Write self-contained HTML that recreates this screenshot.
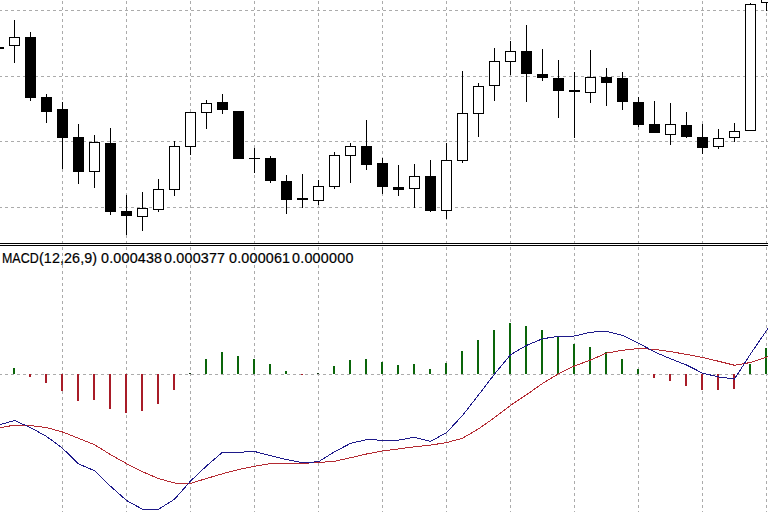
<!DOCTYPE html>
<html><head><meta charset="utf-8"><style>
html,body{margin:0;padding:0;background:#fff;}
body{width:768px;height:512px;overflow:hidden;position:relative;}
svg{position:absolute;left:0;top:0;}
.lbl{position:absolute;top:251px;font-family:"Liberation Sans",sans-serif;font-size:14.3px;color:#000;white-space:nowrap;line-height:1;-webkit-text-stroke:0.2px #000;}
</style></head><body>
<svg width="768" height="512" viewBox="0 0 768 512" shape-rendering="crispEdges">
<defs><pattern id="vd" x="0" y="1" width="1" height="6" patternUnits="userSpaceOnUse"><rect x="0" y="0" width="1" height="3" fill="#ababab"/></pattern><pattern id="hd" x="5" y="0" width="6" height="1" patternUnits="userSpaceOnUse"><rect x="0" y="0" width="3" height="1" fill="#ababab"/></pattern></defs>
<rect x="62" y="0" width="1" height="243" fill="url(#vd)"/>
<rect x="62" y="246" width="1" height="266" fill="url(#vd)"/>
<rect x="126" y="0" width="1" height="243" fill="url(#vd)"/>
<rect x="126" y="246" width="1" height="266" fill="url(#vd)"/>
<rect x="190" y="0" width="1" height="243" fill="url(#vd)"/>
<rect x="190" y="246" width="1" height="266" fill="url(#vd)"/>
<rect x="254" y="0" width="1" height="243" fill="url(#vd)"/>
<rect x="254" y="246" width="1" height="266" fill="url(#vd)"/>
<rect x="318" y="0" width="1" height="243" fill="url(#vd)"/>
<rect x="318" y="246" width="1" height="266" fill="url(#vd)"/>
<rect x="382" y="0" width="1" height="243" fill="url(#vd)"/>
<rect x="382" y="246" width="1" height="266" fill="url(#vd)"/>
<rect x="446" y="0" width="1" height="243" fill="url(#vd)"/>
<rect x="446" y="246" width="1" height="266" fill="url(#vd)"/>
<rect x="510" y="0" width="1" height="243" fill="url(#vd)"/>
<rect x="510" y="246" width="1" height="266" fill="url(#vd)"/>
<rect x="574" y="0" width="1" height="243" fill="url(#vd)"/>
<rect x="574" y="246" width="1" height="266" fill="url(#vd)"/>
<rect x="638" y="0" width="1" height="243" fill="url(#vd)"/>
<rect x="638" y="246" width="1" height="266" fill="url(#vd)"/>
<rect x="702" y="0" width="1" height="243" fill="url(#vd)"/>
<rect x="702" y="246" width="1" height="266" fill="url(#vd)"/>
<rect x="766" y="0" width="1" height="243" fill="url(#vd)"/>
<rect x="766" y="246" width="1" height="266" fill="url(#vd)"/>
<rect x="0" y="10" width="768" height="1" fill="url(#hd)"/>
<rect x="0" y="76" width="768" height="1" fill="url(#hd)"/>
<rect x="0" y="141" width="768" height="1" fill="url(#hd)"/>
<rect x="0" y="207" width="768" height="1" fill="url(#hd)"/>
<rect x="0" y="374" width="768" height="1" fill="url(#hd)"/>
<rect x="-2" y="47" width="1" height="2" fill="#000"/>
<rect x="-7" y="47" width="11" height="2" fill="#000"/>
<rect x="14" y="20" width="1" height="43" fill="#000"/>
<rect x="9" y="37" width="11" height="9" fill="#000"/>
<rect x="10" y="38" width="9" height="7" fill="#fff"/>
<rect x="30" y="32" width="1" height="69" fill="#000"/>
<rect x="25" y="37" width="11" height="61" fill="#000"/>
<rect x="46" y="94" width="1" height="29" fill="#000"/>
<rect x="41" y="97" width="11" height="15" fill="#000"/>
<rect x="62" y="102" width="1" height="67" fill="#000"/>
<rect x="57" y="109" width="11" height="29" fill="#000"/>
<rect x="78" y="124" width="1" height="60" fill="#000"/>
<rect x="73" y="137" width="11" height="35" fill="#000"/>
<rect x="94" y="135" width="1" height="53" fill="#000"/>
<rect x="89" y="142" width="11" height="30" fill="#000"/>
<rect x="90" y="143" width="9" height="28" fill="#fff"/>
<rect x="110" y="128" width="1" height="87" fill="#000"/>
<rect x="105" y="143" width="11" height="69" fill="#000"/>
<rect x="126" y="195" width="1" height="40" fill="#000"/>
<rect x="121" y="211" width="11" height="5" fill="#000"/>
<rect x="142" y="192" width="1" height="39" fill="#000"/>
<rect x="137" y="208" width="11" height="9" fill="#000"/>
<rect x="138" y="209" width="9" height="7" fill="#fff"/>
<rect x="158" y="179" width="1" height="33" fill="#000"/>
<rect x="153" y="189" width="11" height="21" fill="#000"/>
<rect x="154" y="190" width="9" height="19" fill="#fff"/>
<rect x="174" y="141" width="1" height="55" fill="#000"/>
<rect x="169" y="146" width="11" height="44" fill="#000"/>
<rect x="170" y="147" width="9" height="42" fill="#fff"/>
<rect x="190" y="112" width="1" height="43" fill="#000"/>
<rect x="185" y="112" width="11" height="35" fill="#000"/>
<rect x="186" y="113" width="9" height="33" fill="#fff"/>
<rect x="206" y="100" width="1" height="29" fill="#000"/>
<rect x="201" y="103" width="11" height="10" fill="#000"/>
<rect x="202" y="104" width="9" height="8" fill="#fff"/>
<rect x="222" y="94" width="1" height="20" fill="#000"/>
<rect x="217" y="102" width="11" height="8" fill="#000"/>
<rect x="238" y="111" width="1" height="48" fill="#000"/>
<rect x="233" y="111" width="11" height="48" fill="#000"/>
<rect x="254" y="148" width="1" height="25" fill="#000"/>
<rect x="249" y="158" width="11" height="1" fill="#000"/>
<rect x="270" y="156" width="1" height="27" fill="#000"/>
<rect x="265" y="158" width="11" height="23" fill="#000"/>
<rect x="286" y="175" width="1" height="39" fill="#000"/>
<rect x="281" y="181" width="11" height="19" fill="#000"/>
<rect x="302" y="174" width="1" height="34" fill="#000"/>
<rect x="297" y="198" width="11" height="2" fill="#000"/>
<rect x="318" y="180" width="1" height="25" fill="#000"/>
<rect x="313" y="186" width="11" height="15" fill="#000"/>
<rect x="314" y="187" width="9" height="13" fill="#fff"/>
<rect x="334" y="152" width="1" height="37" fill="#000"/>
<rect x="329" y="155" width="11" height="32" fill="#000"/>
<rect x="330" y="156" width="9" height="30" fill="#fff"/>
<rect x="350" y="143" width="1" height="40" fill="#000"/>
<rect x="345" y="146" width="11" height="10" fill="#000"/>
<rect x="346" y="147" width="9" height="8" fill="#fff"/>
<rect x="366" y="120" width="1" height="50" fill="#000"/>
<rect x="361" y="146" width="11" height="19" fill="#000"/>
<rect x="382" y="158" width="1" height="36" fill="#000"/>
<rect x="377" y="163" width="11" height="24" fill="#000"/>
<rect x="398" y="165" width="1" height="31" fill="#000"/>
<rect x="393" y="187" width="11" height="3" fill="#000"/>
<rect x="414" y="164" width="1" height="44" fill="#000"/>
<rect x="409" y="176" width="11" height="13" fill="#000"/>
<rect x="410" y="177" width="9" height="11" fill="#fff"/>
<rect x="430" y="160" width="1" height="52" fill="#000"/>
<rect x="425" y="176" width="11" height="35" fill="#000"/>
<rect x="446" y="143" width="1" height="76" fill="#000"/>
<rect x="441" y="160" width="11" height="51" fill="#000"/>
<rect x="442" y="161" width="9" height="49" fill="#fff"/>
<rect x="462" y="71" width="1" height="92" fill="#000"/>
<rect x="457" y="113" width="11" height="48" fill="#000"/>
<rect x="458" y="114" width="9" height="46" fill="#fff"/>
<rect x="478" y="83" width="1" height="54" fill="#000"/>
<rect x="473" y="86" width="11" height="28" fill="#000"/>
<rect x="474" y="87" width="9" height="26" fill="#fff"/>
<rect x="494" y="48" width="1" height="53" fill="#000"/>
<rect x="489" y="61" width="11" height="25" fill="#000"/>
<rect x="490" y="62" width="9" height="23" fill="#fff"/>
<rect x="510" y="41" width="1" height="34" fill="#000"/>
<rect x="505" y="51" width="11" height="11" fill="#000"/>
<rect x="506" y="52" width="9" height="9" fill="#fff"/>
<rect x="526" y="25" width="1" height="77" fill="#000"/>
<rect x="521" y="51" width="11" height="23" fill="#000"/>
<rect x="542" y="49" width="1" height="32" fill="#000"/>
<rect x="537" y="74" width="11" height="4" fill="#000"/>
<rect x="558" y="60" width="1" height="58" fill="#000"/>
<rect x="553" y="78" width="11" height="13" fill="#000"/>
<rect x="574" y="72" width="1" height="66" fill="#000"/>
<rect x="569" y="90" width="11" height="2" fill="#000"/>
<rect x="590" y="50" width="1" height="53" fill="#000"/>
<rect x="585" y="77" width="11" height="16" fill="#000"/>
<rect x="586" y="78" width="9" height="14" fill="#fff"/>
<rect x="606" y="68" width="1" height="38" fill="#000"/>
<rect x="601" y="77" width="11" height="6" fill="#000"/>
<rect x="622" y="72" width="1" height="38" fill="#000"/>
<rect x="617" y="78" width="11" height="24" fill="#000"/>
<rect x="638" y="97" width="1" height="30" fill="#000"/>
<rect x="633" y="102" width="11" height="23" fill="#000"/>
<rect x="654" y="101" width="1" height="32" fill="#000"/>
<rect x="649" y="124" width="11" height="9" fill="#000"/>
<rect x="670" y="103" width="1" height="42" fill="#000"/>
<rect x="665" y="124" width="11" height="11" fill="#000"/>
<rect x="666" y="125" width="9" height="9" fill="#fff"/>
<rect x="686" y="112" width="1" height="26" fill="#000"/>
<rect x="681" y="125" width="11" height="12" fill="#000"/>
<rect x="702" y="124" width="1" height="30" fill="#000"/>
<rect x="697" y="137" width="11" height="11" fill="#000"/>
<rect x="718" y="129" width="1" height="20" fill="#000"/>
<rect x="713" y="138" width="11" height="9" fill="#000"/>
<rect x="714" y="139" width="9" height="7" fill="#fff"/>
<rect x="734" y="123" width="1" height="19" fill="#000"/>
<rect x="729" y="131" width="11" height="7" fill="#000"/>
<rect x="730" y="132" width="9" height="5" fill="#fff"/>
<rect x="750" y="3" width="1" height="128" fill="#000"/>
<rect x="745" y="4" width="11" height="127" fill="#000"/>
<rect x="746" y="5" width="9" height="125" fill="#fff"/>
<rect x="766" y="-20" width="1" height="31" fill="#000"/>
<rect x="761" y="-20" width="11" height="23" fill="#000"/>
<rect x="762" y="-19" width="9" height="21" fill="#fff"/>
<rect x="0" y="243" width="768" height="1" fill="#000"/>
<rect x="0" y="244" width="768" height="1" fill="#fff"/>
<rect x="0" y="245" width="768" height="1" fill="#000"/>
<rect x="13" y="368" width="2" height="6" fill="#0a650a"/>
<rect x="29" y="374" width="2" height="3" fill="#a81c28"/>
<rect x="45" y="374" width="2" height="9" fill="#a81c28"/>
<rect x="61" y="374" width="2" height="17" fill="#a81c28"/>
<rect x="77" y="374" width="2" height="27" fill="#a81c28"/>
<rect x="93" y="374" width="2" height="26" fill="#a81c28"/>
<rect x="109" y="374" width="2" height="35" fill="#a81c28"/>
<rect x="125" y="374" width="2" height="39" fill="#a81c28"/>
<rect x="141" y="374" width="2" height="37" fill="#a81c28"/>
<rect x="157" y="374" width="2" height="30" fill="#a81c28"/>
<rect x="173" y="374" width="2" height="16" fill="#a81c28"/>
<rect x="189" y="373" width="2" height="1" fill="#183818"/>
<rect x="205" y="359" width="2" height="15" fill="#0a650a"/>
<rect x="221" y="352" width="2" height="22" fill="#0a650a"/>
<rect x="237" y="356" width="2" height="18" fill="#0a650a"/>
<rect x="253" y="359" width="2" height="15" fill="#0a650a"/>
<rect x="269" y="364" width="2" height="10" fill="#0a650a"/>
<rect x="285" y="371" width="2" height="3" fill="#0a650a"/>
<rect x="301" y="374" width="2" height="1" fill="#a81c28"/>
<rect x="317" y="373" width="2" height="1" fill="#183818"/>
<rect x="333" y="366" width="2" height="8" fill="#0a650a"/>
<rect x="349" y="360" width="2" height="14" fill="#0a650a"/>
<rect x="365" y="359" width="2" height="15" fill="#0a650a"/>
<rect x="381" y="362" width="2" height="12" fill="#0a650a"/>
<rect x="397" y="365" width="2" height="9" fill="#0a650a"/>
<rect x="413" y="364" width="2" height="10" fill="#0a650a"/>
<rect x="429" y="369" width="2" height="5" fill="#0a650a"/>
<rect x="445" y="363" width="2" height="11" fill="#0a650a"/>
<rect x="461" y="351" width="2" height="23" fill="#0a650a"/>
<rect x="477" y="340" width="2" height="34" fill="#0a650a"/>
<rect x="493" y="330" width="2" height="44" fill="#0a650a"/>
<rect x="509" y="323" width="2" height="51" fill="#0a650a"/>
<rect x="525" y="326" width="2" height="48" fill="#0a650a"/>
<rect x="541" y="330" width="2" height="44" fill="#0a650a"/>
<rect x="557" y="337" width="2" height="37" fill="#0a650a"/>
<rect x="573" y="344" width="2" height="30" fill="#0a650a"/>
<rect x="589" y="347" width="2" height="27" fill="#0a650a"/>
<rect x="605" y="352" width="2" height="22" fill="#0a650a"/>
<rect x="621" y="359" width="2" height="15" fill="#0a650a"/>
<rect x="637" y="369" width="2" height="5" fill="#0a650a"/>
<rect x="653" y="374" width="2" height="4" fill="#a81c28"/>
<rect x="669" y="374" width="2" height="7" fill="#a81c28"/>
<rect x="685" y="374" width="2" height="12" fill="#a81c28"/>
<rect x="701" y="374" width="2" height="16" fill="#a81c28"/>
<rect x="717" y="374" width="2" height="16" fill="#a81c28"/>
<rect x="733" y="374" width="2" height="15" fill="#a81c28"/>
<rect x="749" y="364" width="2" height="10" fill="#0a650a"/>
<rect x="765" y="348" width="2" height="26" fill="#0a650a"/>
<polyline points="-1.50,428.00 14.50,425.10 30.50,425.50 46.50,427.60 62.50,432.00 78.50,438.25 94.50,444.75 110.50,454.60 126.50,463.60 142.50,471.75 158.50,478.60 174.50,483.00 190.50,483.40 206.50,478.50 222.50,473.75 238.50,469.60 254.50,466.25 270.50,463.50 286.50,463.20 302.50,463.40 318.50,462.50 334.50,461.25 350.50,457.75 366.50,454.00 382.50,450.90 398.50,448.90 414.50,446.75 430.50,445.10 446.50,442.60 462.50,438.25 478.50,428.90 494.50,417.60 510.50,405.40 526.50,394.75 542.50,383.50 558.50,373.75 574.50,366.00 590.50,360.00 606.50,353.10 622.50,350.25 638.50,348.50 654.50,349.40 670.50,351.60 686.50,354.40 702.50,357.50 718.50,361.25 734.50,365.25 750.50,362.50 766.50,357.25 782.50,352.00" fill="none" stroke="#b42a32" stroke-width="1"/>
<polyline points="-1.50,425.10 14.50,420.50 30.50,427.60 46.50,436.40 62.50,448.25 78.50,463.90 94.50,470.75 110.50,486.20 126.50,500.50 142.50,509.25 158.50,509.25 174.50,499.25 190.50,481.10 206.50,466.00 222.50,452.25 238.50,452.25 254.50,451.50 270.50,455.60 286.50,459.60 302.50,462.75 318.50,461.75 334.50,451.75 350.50,443.40 366.50,439.60 382.50,440.20 398.50,440.10 414.50,437.25 430.50,441.40 446.50,432.60 462.50,415.50 478.50,395.00 494.50,374.10 510.50,354.75 526.50,345.40 542.50,338.75 558.50,336.40 574.50,336.00 590.50,332.25 606.50,331.25 622.50,335.40 638.50,343.10 654.50,351.90 670.50,358.80 686.50,365.00 702.50,373.10 718.50,376.90 734.50,379.00 750.50,354.00 766.50,330.60 782.50,307.00" fill="none" stroke="#1e1a8a" stroke-width="1"/>
</svg>
<div class="lbl" style="left:2px;letter-spacing:0px;transform:scaleX(0.87);transform-origin:0 0">MACD</div>
<div class="lbl" style="left:39px;letter-spacing:0.1px;transform:scaleX(1);transform-origin:0 0">(12,26,9)</div>
<div class="lbl" style="left:101px;letter-spacing:0.2px;transform:scaleX(1);transform-origin:0 0">0.000438</div>
<div class="lbl" style="left:164px;letter-spacing:0.2px;transform:scaleX(1);transform-origin:0 0">0.000377</div>
<div class="lbl" style="left:229px;letter-spacing:0.2px;transform:scaleX(1);transform-origin:0 0">0.000061</div>
<div class="lbl" style="left:292px;letter-spacing:0.25px;transform:scaleX(1);transform-origin:0 0">0.000000</div>
</body></html>
